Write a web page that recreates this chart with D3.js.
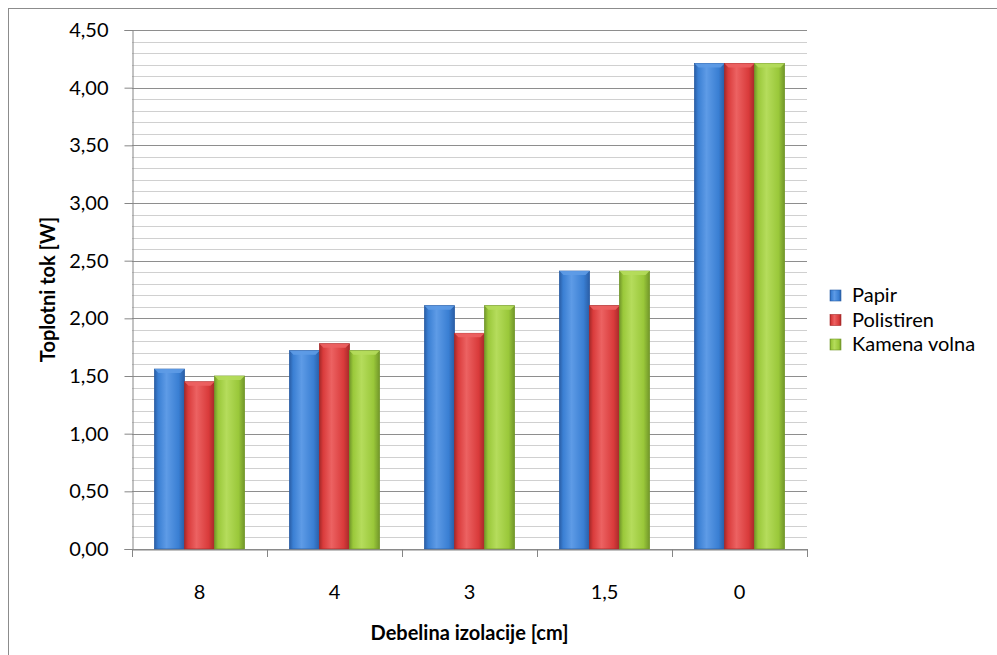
<!DOCTYPE html>
<html>
<head>
<meta charset="utf-8">
<script src="https://cdn.jsdelivr.net/npm/d3@7"></script>
<style>
  body { margin: 0; background: #fff; }
  text { font-family: Lato, "Open Sans", sans-serif; fill: #000; }
</style>
</head>
<body>
<div id="chart"></div>
<script>
const categories = ['8', '4', '3', '1,5', '0']
const seriesNames = ['Papir', 'Polistiren', 'Kamena volna']
const papir = [1.56, 1.72, 2.11, 2.41, 4.21]
const polistiren = [1.45, 1.78, 1.87, 2.11, 4.21]
const kamenaVolna = [1.50, 1.72, 2.11, 2.41, 4.21]
const yTicks = [0, 0.5, 1, 1.5, 2, 2.5, 3, 3.5, 4, 4.5]

const width = 997, height = 655
const fontSize = '20px'
const colors = [
  {base: '#3a7fd3', light: '#5e9be6', dark: '#2a5ea6'},
  {base: '#d93b3b', light: '#ec6262', dark: '#a72929'},
  {base: '#9ac83a', light: '#b5dc5c', dark: '#72972a'}
]

const values = [papir, polistiren, kamenaVolna]
const data = categories.map((c, i) => ({cat: c, vals: values.map(v => v[i])}))

const svg = d3.select('#chart').append('svg')
  .attr('width', width).attr('height', height)

svg.append('rect')
  .attr('x', 8.5).attr('y', 8.5)
  .attr('width', 995).attr('height', 660)
  .attr('fill', '#fff').attr('stroke', '#8c8c8c')

const defs = svg.append('defs')
colors.forEach((c, i) => {
  const g = defs.append('linearGradient').attr('id', 'g' + i)
    .attr('x1', 0).attr('x2', 1).attr('y1', 0).attr('y2', 0)
  g.append('stop').attr('offset', '0%').attr('stop-color', c.dark)
  g.append('stop').attr('offset', '12%').attr('stop-color', c.base)
  g.append('stop').attr('offset', '40%').attr('stop-color', c.light)
  g.append('stop').attr('offset', '80%').attr('stop-color', c.base)
  g.append('stop').attr('offset', '100%').attr('stop-color', c.dark)
})

const plotLeft = 132, plotRight = 807, plotTop = 30, plotBottom = 549

const x = d3.scaleBand().domain(categories).range([plotLeft, plotRight])
  .paddingInner(1 / 3).paddingOuter(1 / 6)
const xs = d3.scaleBand().domain(seriesNames).range([0, x.bandwidth()])
const y = d3.scaleLinear().domain([0, 4.5]).range([plotBottom, plotTop])

// gridlines
const minor = d3.range(0, 46).map(d => d / 10)
svg.append('g').selectAll('line').data(minor).enter().append('line')
  .attr('x1', plotLeft).attr('x2', plotRight)
  .attr('y1', d => Math.round(y(d)) + 0.5).attr('y2', d => Math.round(y(d)) + 0.5)
  .attr('stroke', d => Math.round(d * 10) % 5 === 0 ? '#8e8e8e' : '#d0d0d0')

// bars
const groups = svg.append('g').selectAll('g').data(data).enter().append('g')
  .attr('transform', d => 'translate(' + x(d.cat) + ',0)')

groups.each(function(d) {
  const g = d3.select(this)
  d.vals.forEach((v, i) => {
    const bx = xs(seriesNames[i]), bw = xs.bandwidth(), by = y(v)
    g.append('rect')
      .attr('x', bx).attr('y', by)
      .attr('width', bw).attr('height', plotBottom - by)
      .attr('fill', 'url(#g' + i + ')')
      .attr('stroke', colors[i].dark).attr('stroke-width', 0.8)
    g.append('path')
      .attr('d', 'M' + bx + ',' + by + 'L' + (bx + bw) + ',' + by +
        'L' + (bx + bw - 4) + ',' + (by + 4) + 'L' + (bx + 4) + ',' + (by + 4) + 'Z')
      .attr('fill', colors[i].light).attr('opacity', 0.9)
  })
})

// y axis
const yAxis = svg.append('g')
  .attr('transform', 'translate(' + (plotLeft + 0.5) + ',0)')
  .call(d3.axisLeft(y).tickValues(yTicks).tickSize(8).tickPadding(16)
    .tickFormat(d => d3.format('.2f')(d).replace('.', ',')))
yAxis.select('.domain').attr('stroke', '#868686')
yAxis.selectAll('.tick line').attr('stroke', '#868686')
yAxis.selectAll('text').style('font-size', fontSize)
  .style('font-family', 'Lato, "Open Sans", sans-serif')

// x axis
const xAxis = svg.append('g')
  .attr('transform', 'translate(0,' + (plotBottom + 0.5) + ')')
  .call(d3.axisBottom(x).tickSize(0).tickPadding(35))
xAxis.select('.domain').attr('stroke', '#868686')
xAxis.selectAll('text').style('font-size', fontSize)
  .style('font-family', 'Lato, "Open Sans", sans-serif')
const bounds = categories.map(c => x(c) - x.step() * x.paddingInner() / 2)
bounds.push(plotRight)
svg.append('g').selectAll('line').data(bounds).enter().append('line')
  .attr('x1', d => Math.round(d) + 0.5).attr('x2', d => Math.round(d) + 0.5)
  .attr('y1', plotBottom).attr('y2', plotBottom + 8)
  .attr('stroke', '#868686')

// titles
svg.append('text')
  .attr('x', (plotLeft + plotRight) / 2).attr('y', 640)
  .attr('text-anchor', 'middle')
  .style('font-size', fontSize).style('font-weight', 'bold')
  .text('Debelina izolacije [cm]')

svg.append('text')
  .attr('transform', 'translate(55,' + (plotTop + plotBottom) / 2 + ') rotate(-90)')
  .attr('text-anchor', 'middle')
  .style('font-size', fontSize).style('font-weight', 'bold')
  .text('Toplotni tok [W]')

// legend
const legend = svg.append('g').selectAll('g').data(seriesNames).enter().append('g')
  .attr('transform', (d, i) => 'translate(830,' + (290 + i * 24.5) + ')')
legend.append('rect')
  .attr('width', 11).attr('height', 11)
  .attr('fill', (d, i) => 'url(#g' + i + ')')
  .attr('stroke', (d, i) => colors[i].dark).attr('stroke-width', 0.6)
legend.append('text')
  .attr('x', 22).attr('y', 12)
  .style('font-size', fontSize)
  .text(d => d)
</script>
</body>
</html>
